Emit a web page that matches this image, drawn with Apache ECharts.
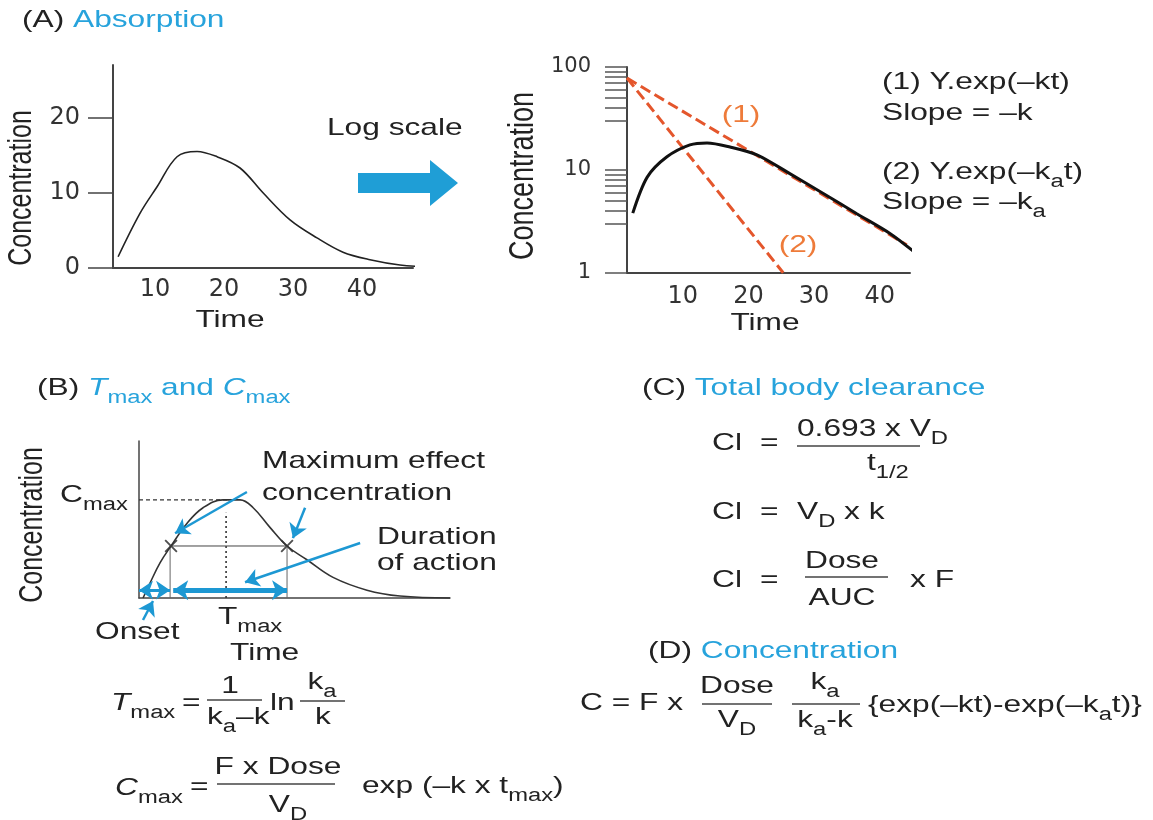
<!DOCTYPE html>
<html>
<head>
<meta charset="utf-8">
<script src="https://cdn.jsdelivr.net/npm/echarts@6.0.0/dist/echarts.min.js"></script>
<style>html,body{margin:0;padding:0;background:#fff}#c{width:1153px;height:820px}</style>
</head>
<body>
<div id="c"></div>
<script>
// ---------- data ----------
// (A) linear plot
const timeLinear = [4.64, 7.83, 10.29, 13.19, 16.09, 18.99, 22.32, 25.65, 29.57, 33.48, 37.25, 41.16, 45.51, 49.86];
const concLinear = [1.5, 7.3, 10.8, 14.8, 15.5, 14.8, 13.3, 10.0, 6.4, 4.0, 2.1, 1.1, 0.4, 0.13];
const xTicksLinear = [10, 20, 30, 40];
const yTicksLinear = [0, 10, 20];
// (A) log plot
const timeLog = [2.4, 4.6, 7.6, 11.1, 13.7, 17.2, 21.3, 26.3, 31.4, 36.5, 41.6, 45.1];
const concLog = [3.8, 8.5, 13.4, 17.5, 18.3, 16.7, 14.0, 9.2, 5.9, 3.75, 2.4, 1.62];
const slowTime = [1.52, 44.1];
const slowConc = [78, 1.87];
const fastTime = [1.52, 25.3];
const fastConc = [78, 1.0];
const xTicksLog = [10, 20, 30, 40];
const yLabelsLog = [1, 10, 100];
const yTicksLog = [1, 3, 4, 5, 6, 7, 8, 9, 10, 30, 40, 50, 60, 70, 80, 90, 100];
// (B) Tmax / Cmax sketch
const timeB = [0.13, 0.35, 0.68, 1.03, 1.54, 2.06, 2.70, 3.25, 3.67, 4.21, 4.76, 5.40, 6.24, 7.33, 8.39, 10];
const concB = [0, 0.15, 0.36, 0.53, 0.76, 0.92, 1.0, 1.0, 0.92, 0.72, 0.53, 0.39, 0.21, 0.08, 0.02, 0];
const cmaxGuideT = [0, 3.0];   const cmaxGuideC = [1.0, 1.0];
const tmaxGuideT = [2.8, 2.8]; const tmaxGuideC = [0, 0.87];
const effectT = [1.03, 4.76];  const effectC = [0.53, 0.53];
const onsetDropT = [1.0, 1.0]; const onsetDropC = [0, 0.53];
const offDropT = [4.76, 4.76]; const offDropC = [0, 0.53];
const crossT = [1.03, 4.76];   const crossC = [0.53, 0.53];
const barLevel = 0.08;
const onsetSpan = [0, 1.0];
const durationSpan = [1.1, 4.76];

// ---------- helpers ----------
const zip = (a, b) => a.map((v, i) => [v, b[i]]);
const FONT = 'Liberation Sans';
const TICKFONT = 'DejaVu Sans';
const SX = 1.32;
const BLUE = '#27a3dc';
const ORANGE = '#ee7b3a';
const RED = '#e4562c';
const ARROW = '#1d98d3';
const INK = '#222';

function sub(extra) {
  return Object.assign({fontFamily: FONT, fontSize: 18, lineHeight: 18, padding: [20, 0, 0, 0]}, extra || {});
}
const RICH = {
  sub: sub(),
  it: {fontFamily: FONT, fontSize: 24, lineHeight: 28, fontStyle: 'italic'},
  b: {fontFamily: FONT, fontSize: 24, lineHeight: 28, fill: BLUE},
  bit: {fontFamily: FONT, fontSize: 24, lineHeight: 28, fill: BLUE, fontStyle: 'italic'},
  bsub: sub({fill: BLUE})
};
function T(x, y, text, o) {
  o = o || {};
  return {
    type: 'text', x: x, y: y, silent: true,
    rotation: o.rot || 0,
    scaleX: o.sx != null ? o.sx : SX,
    scaleY: o.sy != null ? o.sy : 1,
    style: {
      text: text, fill: o.fill || INK,
      fontFamily: FONT, fontSize: o.fs || 24, lineHeight: 28,
      align: o.align || 'left', verticalAlign: 'middle',
      textAlign: o.align || 'left', textVerticalAlign: 'middle',
      rich: RICH
    }
  };
}
function bar(x1, x2, y) {
  return {type: 'line', silent: true, shape: {x1: x1, y1: y, x2: x2, y2: y}, style: {stroke: '#444', lineWidth: 1.5}};
}

const graphics = [
  // headings
  T(22, 20, '(A) {b|Absorption}'),
  T(37, 388, '(B) {bit|T}{bsub|max}{b| and }{bit|C}{bsub|max}'),
  T(642, 388, '(C) {b|Total body clearance}'),
  T(648, 651, '(D) {b|Concentration}'),
  // panel A
  T(327, 128, 'Log scale'),
  {type: 'polygon', silent: true, shape: {points: [[358,173],[430,173],[430,160],[458,183],[430,206],[430,193],[358,193]]}, style: {fill: '#1f9ed6'}},
  T(22, 188, 'Concentration', {rot: Math.PI / 2, align: 'center', sx: 1, sy: 1.3, fs: 25}),
  T(230, 320, 'Time', {align: 'center'}),
  T(523, 176, 'Concentration', {rot: Math.PI / 2, align: 'center', sx: 1, sy: 1.3, fs: 27}),
  T(765, 323, 'Time', {align: 'center'}),
  T(741, 115, '(1)', {align: 'center', fill: ORANGE}),
  T(798, 245, '(2)', {align: 'center', fill: ORANGE}),
  T(882, 82, '(1) Y.exp(–kt)'),
  T(882, 113, 'Slope = –k'),
  T(882, 172, '(2) Y.exp(–k{sub|a}t)'),
  T(882, 202, 'Slope = –k{sub|a}'),
  // panel B
  T(33, 525, 'Concentration', {rot: Math.PI / 2, align: 'center', sx: 1, sy: 1.3, fs: 25}),
  T(60, 495, 'C{sub|max}'),
  T(262, 461, 'Maximum effect'),
  T(262, 493, 'concentration'),
  T(377, 537, 'Duration'),
  T(377, 563, 'of action'),
  T(95, 632, 'Onset'),
  T(218, 617, 'T{sub|max}'),
  T(230, 653, 'Time'),
  // Tmax formula
  T(111, 703, '{it|T}{sub|max}'),
  T(182, 703, '='),
  T(230, 686, '1', {align: 'center'}),
  bar(207, 262, 700),
  T(207, 717, 'k{sub|a}–k'),
  T(270, 703, 'ln'),
  T(322, 682, 'k{sub|a}', {align: 'center'}),
  bar(300, 345, 701),
  T(323, 717, 'k', {align: 'center'}),
  // Cmax formula
  T(115, 788, '{it|C}{sub|max}'),
  T(190, 787, '='),
  T(278, 767, 'F x Dose', {align: 'center'}),
  bar(217, 335, 784),
  T(288, 805, 'V{sub|D}', {align: 'center'}),
  T(362, 786, 'exp (–k x t{sub|max})'),
  // (C) clearance
  T(712, 443, 'Cl'), T(760, 443, '='),
  T(797, 429, '0.693 x V{sub|D}'),
  bar(797, 920, 446),
  T(867, 463, 't{sub|1/2}'),
  T(712, 512, 'Cl'), T(760, 512, '='),
  T(797, 512, 'V{sub|D} x k'),
  T(712, 580, 'Cl'), T(760, 580, '='),
  T(842, 561, 'Dose', {align: 'center'}),
  bar(805, 888, 577),
  T(842, 598, 'AUC', {align: 'center'}),
  T(910, 580, 'x F'),
  // (D) concentration
  T(580, 703, 'C = F x'),
  T(737, 686, 'Dose', {align: 'center'}),
  bar(702, 772, 704),
  T(737, 720, 'V{sub|D}', {align: 'center'}),
  T(825, 682, 'k{sub|a}', {align: 'center'}),
  bar(792, 860, 704),
  T(825, 720, 'k{sub|a}-k', {align: 'center'}),
  T(868, 705, '{exp(–kt)-exp(–k{sub|a}t)}')
];

const axisLine = {show: true, onZero: false, lineStyle: {color: '#444', width: 2}};
const tickLabel = {fontFamily: TICKFONT, fontSize: 24, color: '#333'};
const noSplit = {show: false};

const thin = (color, width, type) => ({color: color, width: width, type: type || 'solid'});

const option = {
  animation: false,
  backgroundColor: '#fff',
  grid: [
    {left: 113, top: 65, width: 300, height: 203, outerBoundsMode: 'none'},
    {left: 627, top: 67, width: 283, height: 206, outerBoundsMode: 'none'},
    {left: 139, top: 441, width: 311, height: 157, outerBoundsMode: 'none'}
  ],
  xAxis: [
    {gridIndex: 0, type: 'value', min: 3.9, max: 47.4, axisLine: axisLine, axisTick: {show: false}, splitLine: noSplit,
     axisLabel: Object.assign({customValues: xTicksLinear, margin: 10}, tickLabel)},
    {gridIndex: 1, type: 'value', min: 1.52, max: 44.6, axisLine: axisLine, axisTick: {show: false}, splitLine: noSplit,
     axisLabel: Object.assign({customValues: xTicksLog, margin: 12}, tickLabel)},
    {gridIndex: 2, type: 'value', min: 0, max: 10, axisLine: {show: true, onZero: false, lineStyle: {color: '#444', width: 1.5}},
     axisTick: {show: false}, axisLabel: {show: false}, splitLine: noSplit}
  ],
  yAxis: [
    {gridIndex: 0, type: 'value', min: 0, max: 27, axisLine: axisLine, splitLine: noSplit,
     axisTick: {show: true, inside: false, length: 25, customValues: yTicksLinear, lineStyle: {color: '#444', width: 1.5}},
     axisLabel: Object.assign({customValues: yTicksLinear, margin: 33}, tickLabel)},
    {gridIndex: 1, type: 'log', logBase: 10, min: 0.995, max: 100, axisLine: axisLine, splitLine: noSplit,
     minorTick: {show: false},
     axisTick: {show: true, inside: false, length: 22, customValues: yTicksLog, lineStyle: {color: '#555', width: 1.5}},
     axisLabel: Object.assign({}, tickLabel, {customValues: yLabelsLog, margin: 36, fontSize: 21})},
    {gridIndex: 2, type: 'value', min: 0, max: 1.6, axisLine: {show: true, onZero: false, lineStyle: {color: '#444', width: 1.5}},
     axisTick: {show: false}, axisLabel: {show: false}, splitLine: noSplit}
  ],
  series: [
    {type: 'line', xAxisIndex: 0, yAxisIndex: 0, data: zip(timeLinear, concLinear), smooth: 0.35, clip: false,
     showSymbol: false, lineStyle: thin('#222', 1.6), silent: true},
    {type: 'line', xAxisIndex: 1, yAxisIndex: 1, data: zip(slowTime, slowConc), showSymbol: false, clip: false,
     lineStyle: {color: RED, width: 3, type: [11, 5]}, silent: true},
    {type: 'line', xAxisIndex: 1, yAxisIndex: 1, data: zip(fastTime, fastConc), showSymbol: false, clip: false,
     lineStyle: {color: RED, width: 3, type: [11, 5]}, silent: true},
    {type: 'line', xAxisIndex: 1, yAxisIndex: 1, data: zip(timeLog, concLog), smooth: 0.3, clip: false,
     showSymbol: false, lineStyle: thin('#111', 3), silent: true},
    // panel B guides
    {type: 'line', xAxisIndex: 2, yAxisIndex: 2, data: zip(cmaxGuideT, cmaxGuideC), showSymbol: false, silent: true,
     lineStyle: {color: '#333', width: 1.2, type: [4, 3]}},
    {type: 'line', xAxisIndex: 2, yAxisIndex: 2, data: zip(tmaxGuideT, tmaxGuideC), showSymbol: false, silent: true,
     lineStyle: {color: '#333', width: 1.6, type: [2, 3]}},
    {type: 'line', xAxisIndex: 2, yAxisIndex: 2, data: zip(effectT, effectC), showSymbol: false, silent: true,
     lineStyle: thin('#444', 1)},
    {type: 'line', xAxisIndex: 2, yAxisIndex: 2, data: zip(onsetDropT, onsetDropC), showSymbol: false, silent: true,
     lineStyle: thin('#666', 1)},
    {type: 'line', xAxisIndex: 2, yAxisIndex: 2, data: zip(offDropT, offDropC), showSymbol: false, silent: true,
     lineStyle: thin('#666', 1)},
    {type: 'line', xAxisIndex: 2, yAxisIndex: 2, data: zip(timeB, concB), smooth: 0.4, clip: false,
     showSymbol: false, lineStyle: thin('#333', 1.6), silent: true,
     markLine: {
       silent: true, animation: false, symbol: ['none', 'arrow'], symbolSize: 14,
       label: {show: false}, emphasis: {disabled: true},
       lineStyle: {color: ARROW, width: 2.5, type: 'solid'},
       data: [
         [{coord: [onsetSpan[0], barLevel], symbol: 'arrow', lineStyle: {width: 3}}, {coord: [onsetSpan[1], barLevel], symbol: 'arrow'}],
         [{coord: [durationSpan[0], barLevel], symbol: 'arrow', symbolSize: 15, lineStyle: {width: 5}}, {coord: [durationSpan[1], barLevel], symbol: 'arrow', symbolSize: 15}],
         [{coord: [3.47, 1.08]}, {coord: [1.16, 0.66]}],
         [{coord: [5.34, 0.92]}, {coord: [4.95, 0.61]}],
         [{coord: [7.11, 0.56]}, {coord: [3.41, 0.16]}],
         [{x: 143, y: 620}, {x: 153, y: 601}]
       ]
     }},
    {type: 'scatter', xAxisIndex: 2, yAxisIndex: 2, data: zip(crossT, crossC), silent: true,
     symbol: 'path://M0,1 L1,0 L5,4 L9,0 L10,1 L6,5 L10,9 L9,10 L5,6 L1,10 L0,9 L4,5 Z',
     symbolSize: 13, itemStyle: {color: '#222'}}
  ],
  graphic: {elements: graphics}
};

const chart = echarts.init(document.getElementById('c'), null, {renderer: 'canvas'});
chart.setOption(option);
</script>
</body>
</html>
